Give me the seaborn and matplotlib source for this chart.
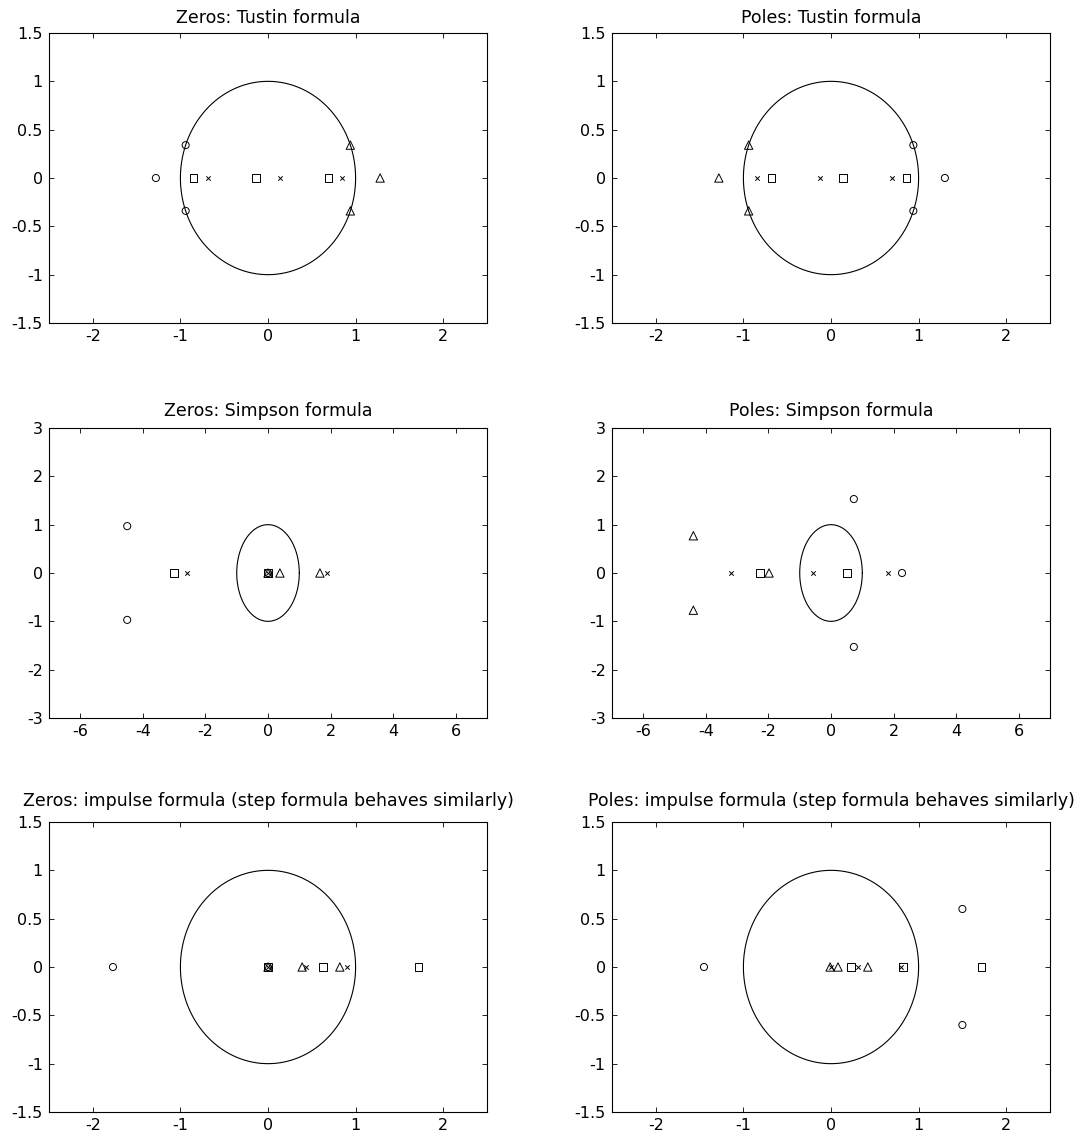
import numpy as np
import pandas as pd
import matplotlib
matplotlib.use("Agg")
import matplotlib.pyplot as plt
import seaborn as sns

# Root locations (complex numbers) for each discretisation method and marker type
TUSTIN_ZEROS_O = [-1.28, -0.94 + 0.34j, -0.94 - 0.34j]
TUSTIN_ZEROS_X = [-0.68, 0.14, 0.85]
TUSTIN_ZEROS_S = [-0.85, -0.14, 0.69]
TUSTIN_ZEROS_T = [0.94 + 0.34j, 0.94 - 0.34j, 1.28]

TUSTIN_POLES_O = [0.94 + 0.34j, 0.94 - 0.34j, 1.30]
TUSTIN_POLES_X = [-0.84, -0.12, 0.70]
TUSTIN_POLES_S = [-0.68, 0.14, 0.86]
TUSTIN_POLES_T = [-1.28, -0.94 + 0.34j, -0.94 - 0.34j]

SIMPSON_ZEROS_O = [-4.5 + 0.97j, -4.5 - 0.97j, 0.0]
SIMPSON_ZEROS_X = [-2.59, 0.0, 1.88]
SIMPSON_ZEROS_S = [-3.0, 0.0]
SIMPSON_ZEROS_T = [0.0, 0.38, 1.66]

SIMPSON_POLES_O = [0.73 + 1.53j, 0.73 - 1.53j, 2.27]
SIMPSON_POLES_X = [-3.19, -0.57, 1.82]
SIMPSON_POLES_S = [-2.27, 0.51]
SIMPSON_POLES_T = [-4.4 + 0.77j, -4.4 - 0.77j, -1.98]

IMPULSE_ZEROS_O = [-1.77, 0.0]
IMPULSE_ZEROS_X = [0.0, 0.43, 0.90]
IMPULSE_ZEROS_S = [0.0, 0.63, 1.72]
IMPULSE_ZEROS_T = [0.0, 0.39, 0.82]

IMPULSE_POLES_O = [-1.45, 1.5 + 0.6j, 1.5 - 0.6j]
IMPULSE_POLES_X = [0.0, 0.31, 0.80]
IMPULSE_POLES_S = [0.23, 0.82, 1.72]
IMPULSE_POLES_T = [-0.01, 0.08, 0.42]

TITLES = [
    "Zeros: Tustin formula", "Poles: Tustin formula",
    "Zeros: Simpson formula", "Poles: Simpson formula",
    "Zeros: impulse formula (step formula behaves similarly)",
    "Poles: impulse formula (step formula behaves similarly)",
]

SMALL_XTICKS = [-2, -1, 0, 1, 2]
SMALL_YTICKS = [-1.5, -1, -0.5, 0, 0.5, 1, 1.5]
WIDE_XTICKS = [-6, -4, -2, 0, 2, 4, 6]
WIDE_YTICKS = [-3, -2, -1, 0, 1, 2, 3]

PANELS = [
    (TUSTIN_ZEROS_O, TUSTIN_ZEROS_X, TUSTIN_ZEROS_S, TUSTIN_ZEROS_T),
    (TUSTIN_POLES_O, TUSTIN_POLES_X, TUSTIN_POLES_S, TUSTIN_POLES_T),
    (SIMPSON_ZEROS_O, SIMPSON_ZEROS_X, SIMPSON_ZEROS_S, SIMPSON_ZEROS_T),
    (SIMPSON_POLES_O, SIMPSON_POLES_X, SIMPSON_POLES_S, SIMPSON_POLES_T),
    (IMPULSE_ZEROS_O, IMPULSE_ZEROS_X, IMPULSE_ZEROS_S, IMPULSE_ZEROS_T),
    (IMPULSE_POLES_O, IMPULSE_POLES_X, IMPULSE_POLES_S, IMPULSE_POLES_T),
]

sns.set_style("ticks")
plt.rcParams.update({
    "font.family": ["DejaVu Sans"],
    "axes.unicode_minus": False,
    "xtick.direction": "in",
    "ytick.direction": "in",
    "xtick.top": True,
    "ytick.right": True,
    "xtick.major.size": 3.6,
    "ytick.major.size": 3.6,
    "xtick.major.width": 0.6,
    "ytick.major.width": 0.6,
    "axes.linewidth": 0.8,
    "axes.edgecolor": "black",
    "xtick.color": "black",
    "ytick.color": "black",
    "text.color": "black",
})

fig = plt.figure(figsize=(10.91, 11.35), dpi=100)

W, H = 1091.0, 1135.0
col_left = [49, 612]
row_top = [33, 428, 822]
title_pad = [7.5, 8.5, 11.5]
ax_w, ax_h = 438, 290

theta = np.linspace(0, 2 * np.pi, 400)
unit = pd.DataFrame({"re": np.cos(theta), "im": np.sin(theta)})


def fmt(v):
    return ("%g" % v)


styles = [
    dict(marker="o", s=26, facecolor="none", edgecolor="black", linewidth=0.7),
    dict(marker="x", s=10, color="black", linewidth=0.7),
    dict(marker="s", s=30, facecolor="none", edgecolor="black", linewidth=0.7),
    dict(marker="^", s=36, facecolor="none", edgecolor="black", linewidth=0.7),
]

for idx, (panel, title) in enumerate(zip(PANELS, TITLES)):
    r, c = divmod(idx, 2)
    left = col_left[c] / W
    bottom = 1 - (row_top[r] + ax_h) / H
    ax = fig.add_axes([left, bottom, ax_w / W, ax_h / H])

    sns.lineplot(data=unit, x="re", y="im", sort=False, estimator=None,
                 color="black", linewidth=0.8, ax=ax)

    for roots, st in zip(panel, styles):
        z = np.asarray(roots, dtype=complex)
        df = pd.DataFrame({"re": z.real, "im": z.imag})
        sns.scatterplot(data=df, x="re", y="im", ax=ax, zorder=3, **st)

    if r == 1:
        ax.set_xlim(-7, 7)
        ax.set_ylim(-3, 3)
        xt, yt = WIDE_XTICKS, WIDE_YTICKS
    else:
        ax.set_xlim(-2.5, 2.5)
        ax.set_ylim(-1.5, 1.5)
        xt, yt = SMALL_XTICKS, SMALL_YTICKS
    ax.set_xticks(xt)
    ax.set_xticklabels([fmt(v) for v in xt])
    ax.set_yticks(yt)
    ax.set_yticklabels([fmt(v) for v in yt])
    ax.tick_params(labelsize=11.5, pad=4.5)
    ax.set_xlabel("")
    ax.set_ylabel("")
    for sp in ax.spines.values():
        sp.set_visible(True)
    ax.set_title(title, fontsize=12.5, pad=title_pad[r])

fig.savefig("out.png", dpi=100, facecolor="white")
